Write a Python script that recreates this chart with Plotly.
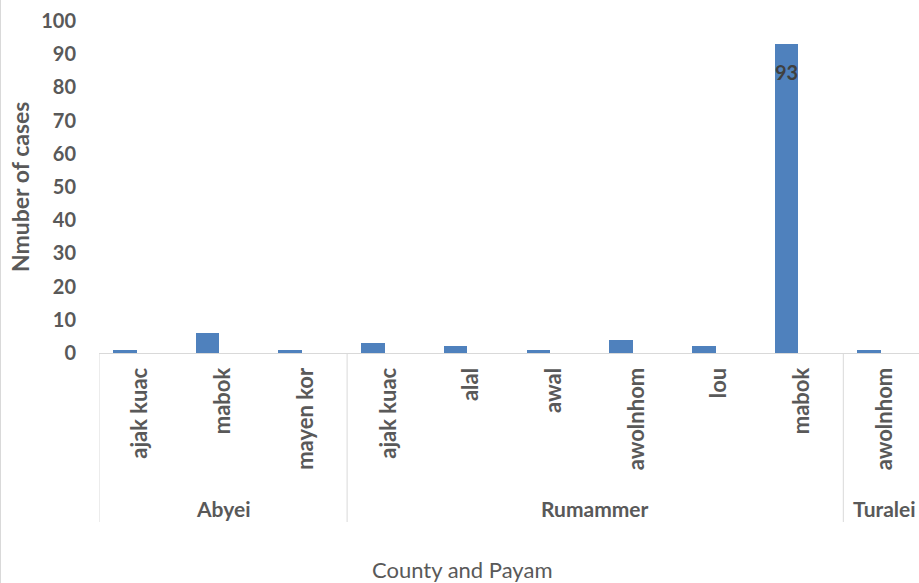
import plotly.graph_objects as go

counties = ["Abyei", "Abyei", "Abyei",
            "Rumammer", "Rumammer", "Rumammer", "Rumammer", "Rumammer", "Rumammer",
            "Turalei"]
payams = ["ajak kuac", "mabok", "mayen kor",
          "ajak kuac", "alal", "awal", "awolnhom", "lou", "mabok",
          "awolnhom"]
cases = [1, 6, 1, 3, 2, 1, 4, 2, 93, 1]
shown_labels = ["", "", "", "", "", "", "", "", "93", ""]
y_ticks = [0, 10, 20, 30, 40, 50, 60, 70, 80, 90, 100]

W, H = 919, 583
ML, MR, MT, MB = 99, 0, 21, 230
plot_h = H - MT - MB
plot_w = W - ML - MR

def py(px):  # pixel y -> paper y
    return (H - MB - px) / plot_h

def pxx(px):  # pixel x -> paper x
    return (px - ML) / plot_w

FONT = "Lato"
GRAY = "#595959"
LINE = "#d9d9d9"
BAR_OFFSET, BAR_WIDTH = -0.33, 0.285

idx = list(range(len(payams)))

fig = go.Figure()
fig.add_trace(go.Bar(
    x=idx, y=cases,
    offset=BAR_OFFSET, width=BAR_WIDTH,
    marker=dict(color="#4F81BD", line=dict(width=0)),
    hoverinfo="x+y",
))

# group boundaries and labels
groups = []
for i, c in enumerate(counties):
    if not groups or groups[-1][0] != c:
        groups.append([c, i, i])
    else:
        groups[-1][2] = i

shapes = []
annotations = []
bounds = [-0.5] + [g[2] + 0.5 for g in groups[:-1]]
for b in bounds:
    shapes.append(dict(type="line", xref="x", yref="paper", x0=b, x1=b,
                       y0=0, y1=py(522), line=dict(color=LINE, width=1)))
for name, a, bidx in groups:
    annotations.append(dict(text=name, xref="x", yref="paper",
                            x=(a + bidx) / 2, y=py(508), showarrow=False,
                            xanchor="center", yanchor="middle",
                            font=dict(family=FONT, size=21, color=GRAY, weight="bold")))

# data labels (inside end of bar)
for i, (v, lab) in enumerate(zip(cases, shown_labels)):
    if lab:
        annotations.append(dict(text=lab, xref="x", yref="y",
                                x=i + BAR_OFFSET + BAR_WIDTH / 2, y=v, yshift=-28,
                                showarrow=False, xanchor="center", yanchor="middle",
                                font=dict(family=FONT, size=20, color="#404040", weight="bold")))

# left chart border
shapes.append(dict(type="line", xref="paper", yref="paper", x0=pxx(0.5), x1=pxx(0.5),
                   y0=py(0), y1=py(583), line=dict(color=LINE, width=1)))

annotations.append(dict(text="Nmuber of cases", xref="paper", yref="paper",
                        x=pxx(20), y=py(187), textangle=-90, showarrow=False,
                        xanchor="center", yanchor="middle",
                        font=dict(family=FONT, size=23, color=GRAY, weight="bold")))
annotations.append(dict(text="County and Payam", xref="paper", yref="paper",
                        x=pxx(462), y=py(569), showarrow=False,
                        xanchor="center", yanchor="middle",
                        font=dict(family=FONT, size=22, color=GRAY)))

cat_w = 82.7
fig.update_layout(
    width=W, height=H,
    margin=dict(l=ML, r=MR, t=MT, b=MB, pad=0),
    paper_bgcolor="white", plot_bgcolor="white",
    showlegend=False,
    bargap=0,
    shapes=shapes,
    annotations=annotations,
    xaxis=dict(
        range=[-0.5, -0.5 + plot_w / cat_w],
        tickmode="array", tickvals=idx, ticktext=payams,
        tickangle=-90, ticks="", showgrid=False, zeroline=False,
        showline=True, linecolor=LINE, linewidth=1,
        tickfont=dict(family=FONT, size=22, color=GRAY, weight="bold"),
        ticklabelstandoff=5,
        fixedrange=True,
    ),
    yaxis=dict(
        range=[0, 100], tickmode="array", tickvals=y_ticks,
        showgrid=False, zeroline=False, showline=False, ticks="",
        tickfont=dict(family=FONT, size=20, color=GRAY, weight="bold"),
        ticklabelstandoff=22,
        fixedrange=True,
    ),
)

fig.write_html("out.html")
